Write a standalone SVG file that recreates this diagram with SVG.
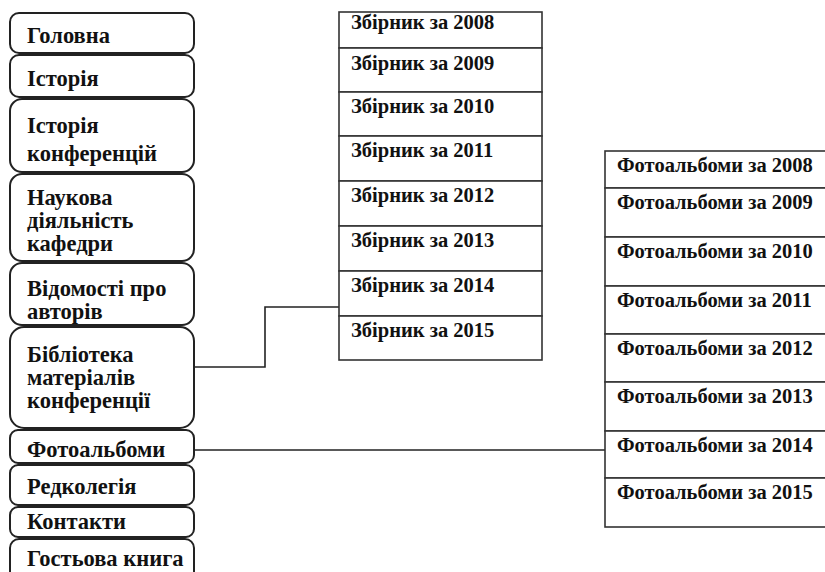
<svg xmlns="http://www.w3.org/2000/svg" width="825" height="572" viewBox="0 0 825 572">
<style>
.nb{fill:#fff;stroke:#222;stroke-width:2}
.cell{fill:#fff;stroke:#333;stroke-width:1.6}
text{font-family:'Liberation Serif','Times New Roman','DejaVu Serif',serif;font-weight:bold;font-size:20.5px;fill:#111}
#menu text{font-size:22.5px}
.con{fill:none;stroke:#222;stroke-width:1.6}
</style>
<rect width="825" height="572" fill="#fff"/>
<g id="menu">
<g id="n1"><rect class="nb" x="10" y="13" width="184" height="40" rx="9"/><text x="27" y="43">Головна</text></g>
<g id="n2"><rect class="nb" x="10" y="55" width="184" height="42" rx="9"/><text x="27" y="86">Історія</text></g>
<g id="n3"><rect class="nb" x="10" y="99" width="184" height="73" rx="12"/><text x="27" y="133">Історія</text><text x="27" y="161">конференцій</text></g>
<g id="n4"><rect class="nb" x="10" y="174" width="184" height="87" rx="12"/><text x="27" y="205">Наукова</text><text x="27" y="228">діяльність</text><text x="27" y="251">кафедри</text></g>
<g id="n5"><rect class="nb" x="10" y="263" width="184" height="62" rx="12"/><text x="27" y="296">Відомості про</text><text x="27" y="319">авторів</text></g>
<g id="n6"><rect class="nb" x="10" y="327" width="184" height="101" rx="14"/><text x="27" y="362">Бібліотека</text><text x="27" y="385">матеріалів</text><text x="27" y="408">конференції</text></g>
<g id="n7"><rect class="nb" x="10" y="430" width="184" height="33" rx="8"/><text x="27" y="457">Фотоальбоми</text></g>
<g id="n8"><rect class="nb" x="10" y="465" width="184" height="40" rx="8"/><text x="27" y="494">Редколегія</text></g>
<g id="n9"><rect class="nb" x="10" y="507" width="184" height="30" rx="8"/><text x="27" y="529">Контакти</text></g>
<g id="n10"><rect class="nb" x="10" y="539" width="184" height="50" rx="9"/><text x="27" y="566">Гостьова книга</text></g>
</g>
<g id="connectors">
<path class="con" d="M194 367 H265 V307 H339"/>
<path class="con" d="M194 450 H605"/>
</g>
<g id="zbirnyky">
<g id="z2008"><rect class="cell" x="339" y="12" width="203" height="36"/><text x="351" y="29">Збірник за 2008</text></g>
<g id="z2009"><rect class="cell" x="339" y="48" width="203" height="44"/><text x="351" y="70">Збірник за 2009</text></g>
<g id="z2010"><rect class="cell" x="339" y="92" width="203" height="44"/><text x="351" y="113">Збірник за 2010</text></g>
<g id="z2011"><rect class="cell" x="339" y="136" width="203" height="45"/><text x="351" y="157">Збірник за 2011</text></g>
<g id="z2012"><rect class="cell" x="339" y="181" width="203" height="45"/><text x="351" y="202">Збірник за 2012</text></g>
<g id="z2013"><rect class="cell" x="339" y="226" width="203" height="45"/><text x="351" y="247">Збірник за 2013</text></g>
<g id="z2014"><rect class="cell" x="339" y="271" width="203" height="45"/><text x="351" y="292">Збірник за 2014</text></g>
<g id="z2015"><rect class="cell" x="339" y="316" width="203" height="44"/><text x="351" y="337">Збірник за 2015</text></g>
</g>
<g id="foto">
<g id="f2008"><rect class="cell" x="605" y="151" width="230" height="37"/><text x="617" y="172">Фотоальбоми за 2008</text></g>
<g id="f2009"><rect class="cell" x="605" y="188" width="230" height="49"/><text x="617" y="209">Фотоальбоми за 2009</text></g>
<g id="f2010"><rect class="cell" x="605" y="237" width="230" height="49"/><text x="617" y="258">Фотоальбоми за 2010</text></g>
<g id="f2011"><rect class="cell" x="605" y="286" width="230" height="48"/><text x="617" y="307">Фотоальбоми за 2011</text></g>
<g id="f2012"><rect class="cell" x="605" y="334" width="230" height="48"/><text x="617" y="355">Фотоальбоми за 2012</text></g>
<g id="f2013"><rect class="cell" x="605" y="382" width="230" height="49"/><text x="617" y="403">Фотоальбоми за 2013</text></g>
<g id="f2014"><rect class="cell" x="605" y="431" width="230" height="47"/><text x="617" y="452">Фотоальбоми за 2014</text></g>
<g id="f2015"><rect class="cell" x="605" y="478" width="230" height="49"/><text x="617" y="499">Фотоальбоми за 2015</text></g>
</g>
</svg>
